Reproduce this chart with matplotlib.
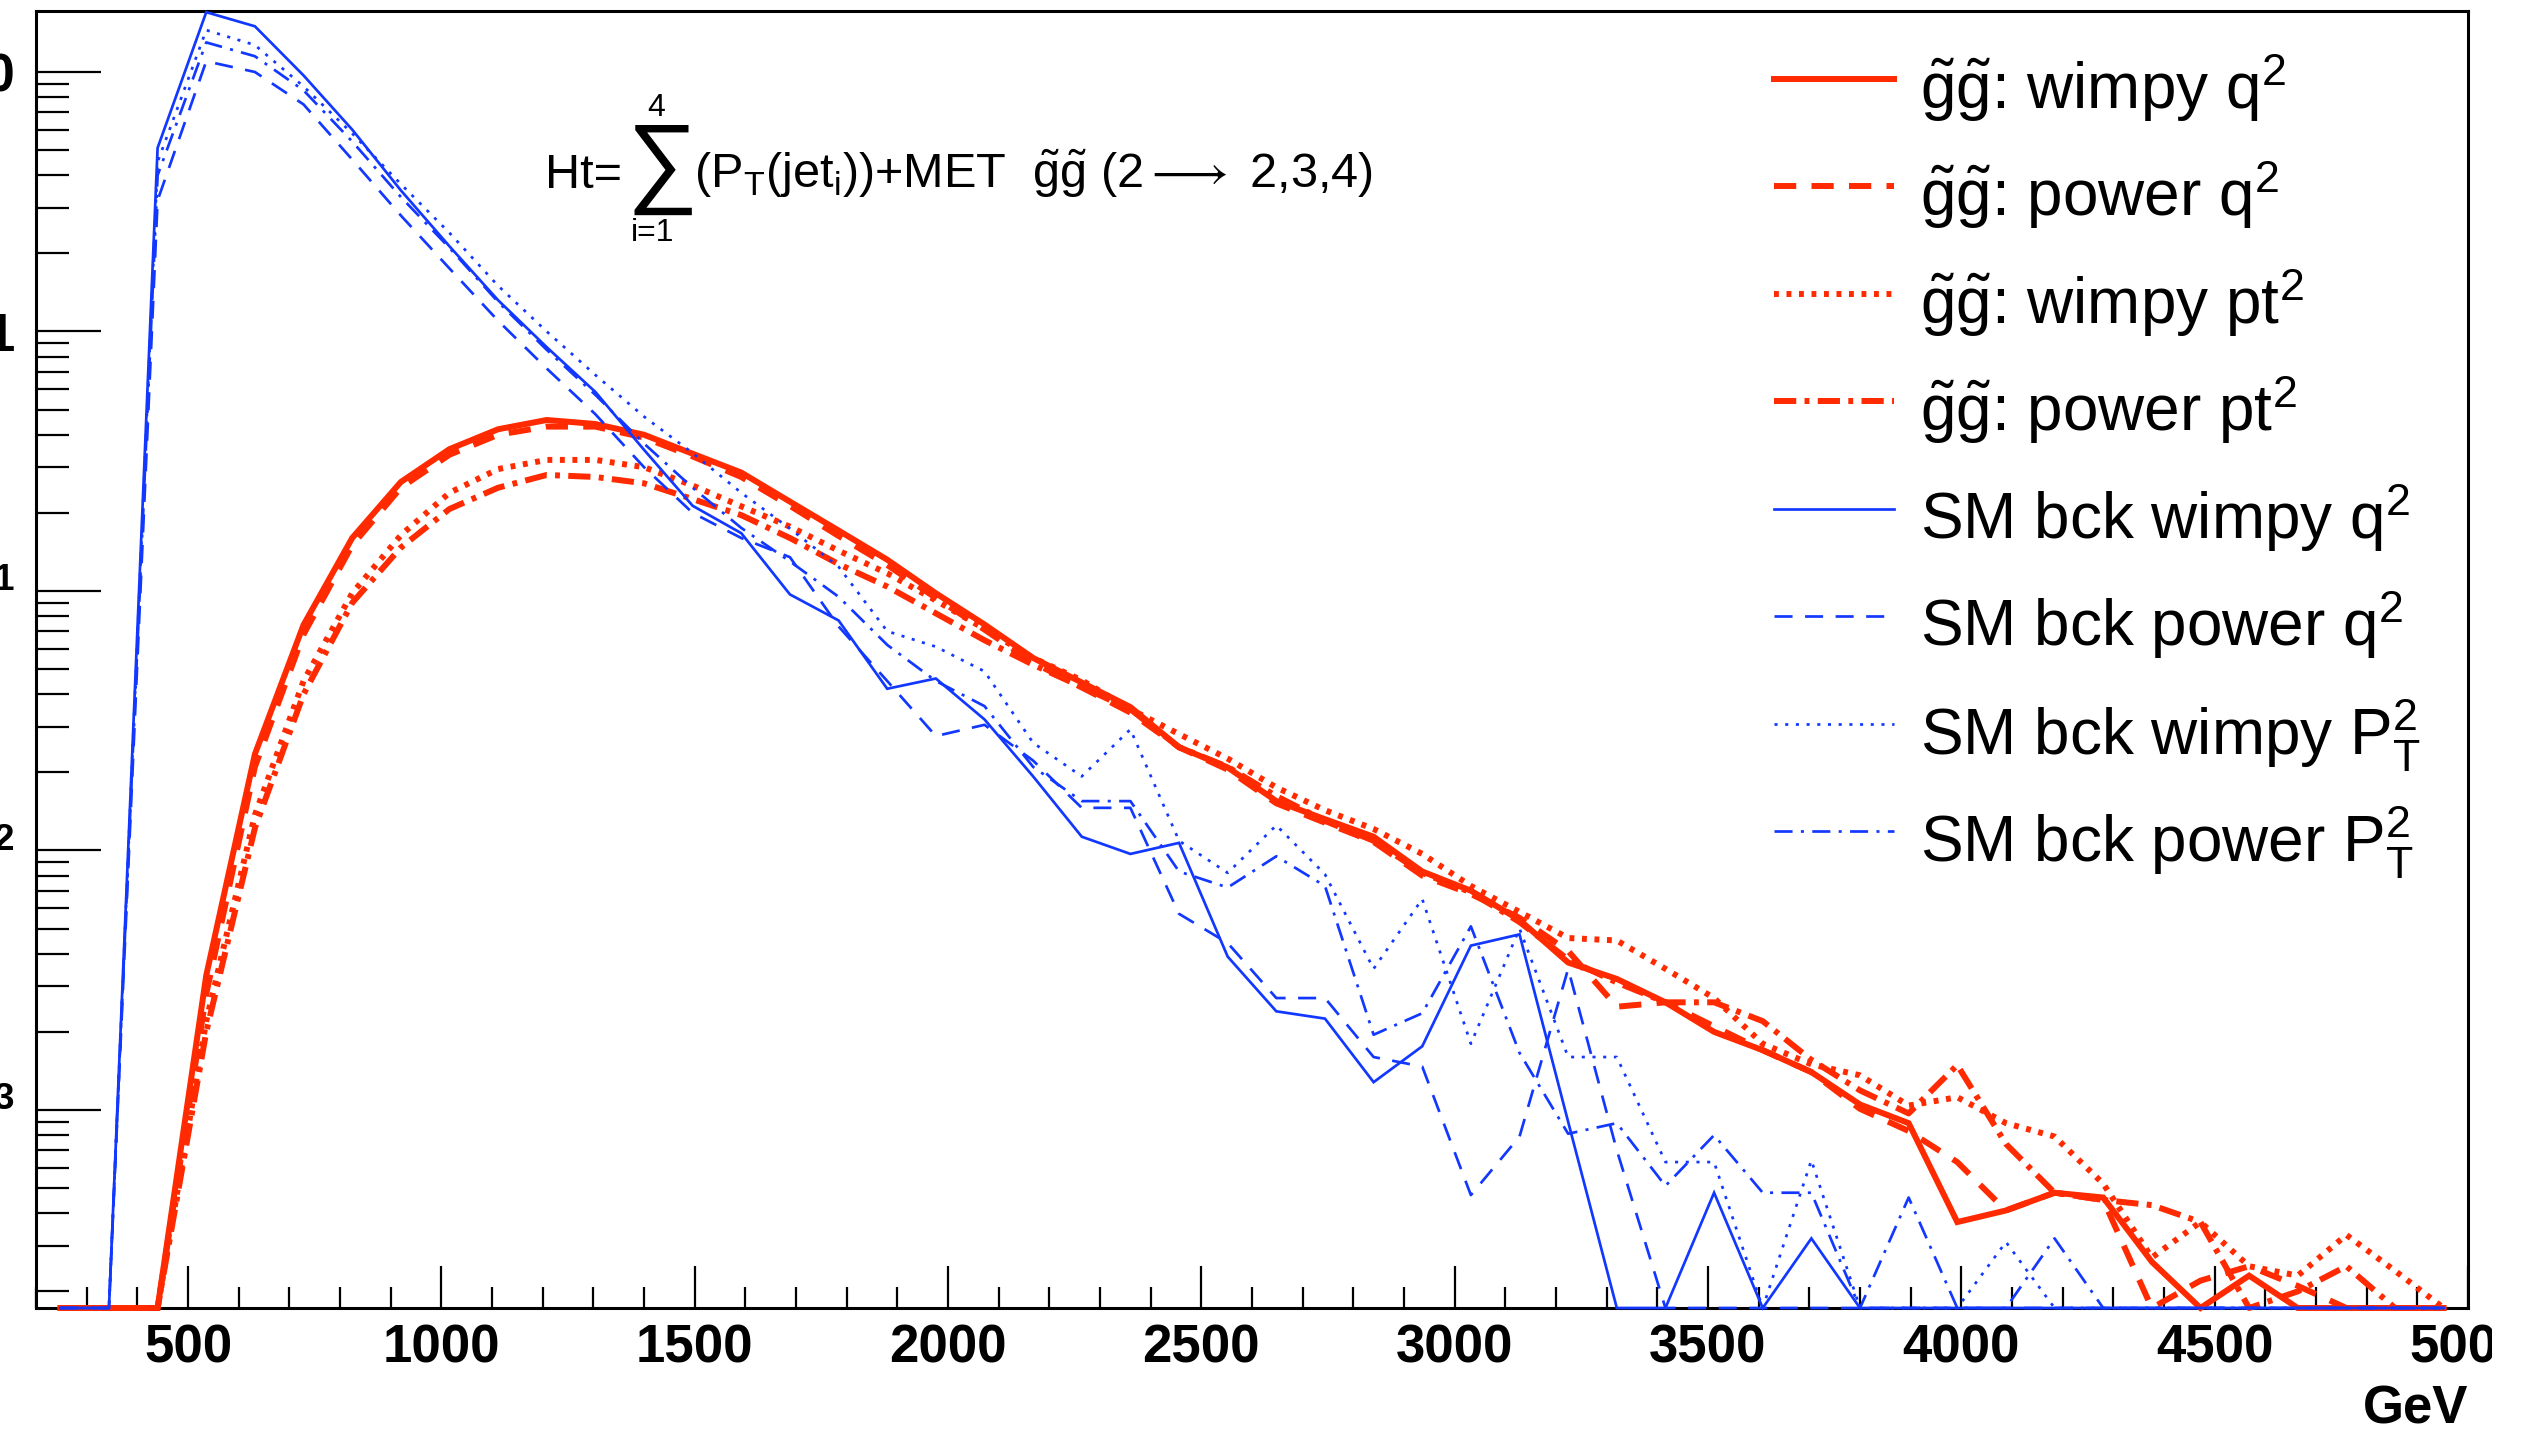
import numpy as np
import matplotlib
matplotlib.use("Agg")
import matplotlib.pyplot as plt
from matplotlib.lines import Line2D
from matplotlib.ticker import MultipleLocator, LogLocator, FuncFormatter, NullFormatter
from matplotlib.transforms import Bbox

plt.rcParams["font.family"] = ["Liberation Sans", "DejaVu Sans"]
plt.rcParams["mathtext.fontset"] = "custom"
plt.rcParams["mathtext.rm"] = "Liberation Sans"
plt.rcParams["mathtext.it"] = "Liberation Sans"
plt.rcParams["mathtext.sf"] = "Liberation Sans"
plt.rcParams["mathtext.bf"] = "Liberation Sans:bold"
plt.rcParams["lines.scale_dashes"] = False

W, H = 2523, 1429
RED = "#ff2a00"
BLUE = "#1238ff"

# Ht histogram: 50 bins of 96 GeV from 200 to 5000 GeV
ht_edges = np.arange(200, 5001, 96)
ht_centers = 0.5 * (ht_edges[1:] + ht_edges[:-1])

sig_wimpy_q2 = [0, 0, 0, 0.0033, 0.0235, 0.074, 0.16, 0.263, 0.352, 0.42,
                0.456, 0.44, 0.40, 0.338, 0.286, 0.221, 0.171, 0.132, 0.098, 0.0743,
                0.0552, 0.0444, 0.0357, 0.025, 0.0209, 0.0155, 0.0132, 0.0113, 0.0083, 0.0070,
                0.0054, 0.0037, 0.0032, 0.0026, 0.0020, 0.0017, 0.0014, 0.00105, 0.00089, 0.00037,
                0.00041, 0.00048, 0.00046, 0.00026, 0, 0.00023, 0, 0, 0, 0]
sig_power_q2 = [0, 0, 0, 0.0028, 0.021, 0.068, 0.15, 0.25, 0.335, 0.40,
                0.43, 0.43, 0.39, 0.33, 0.275, 0.213, 0.163, 0.126, 0.094, 0.071,
                0.053, 0.0425, 0.034, 0.025, 0.0205, 0.0152, 0.0128, 0.0108, 0.0080, 0.0068,
                0.0055, 0.0041, 0.0025, 0.0026, 0.0021, 0.0017, 0.0014, 0.00101, 0.00083, 0.00063,
                0.00041, 0.00048, 0.00045, 0, 0.00022, 0.00025, 0.00021, 0, 0, 0]
sig_wimpy_pt2 = [0, 0, 0, 0.0022, 0.0137, 0.045, 0.098, 0.164, 0.239, 0.295,
                 0.32, 0.32, 0.30, 0.255, 0.212, 0.177, 0.143, 0.117, 0.092, 0.0714,
                 0.0552, 0.0453, 0.035, 0.0281, 0.0226, 0.0175, 0.0143, 0.0121, 0.0097, 0.0073,
                 0.0058, 0.0046, 0.0045, 0.0035, 0.0027, 0.0018, 0.0015, 0.00136, 0.00104, 0.00112,
                 0.00089, 0.00079, 0.00052, 0.00027, 0.00037, 0.00025, 0.00023, 0.00033, 0.00024, 0]
sig_power_pt2 = [0, 0, 0, 0.0020, 0.0122, 0.040, 0.09, 0.147, 0.207, 0.25,
                 0.28, 0.275, 0.26, 0.226, 0.196, 0.16, 0.127, 0.104, 0.082, 0.0646,
                 0.052, 0.0427, 0.035, 0.025, 0.021, 0.0162, 0.013, 0.0109, 0.0082, 0.0069,
                 0.0053, 0.0038, 0.0031, 0.0026, 0.0026, 0.0022, 0.00156, 0.00119, 0.00097, 0.00149,
                 0.00074, 0.00048, 0.00045, 0.00043, 0.00037, 0, 0.0002, 0.00025, 0, 0]
bkg_wimpy_q2 = [0, 0, 5.1, 17, 15, 9.7, 6.0, 3.5, 2.13, 1.32,
                0.87, 0.585, 0.35, 0.213, 0.167, 0.097, 0.077, 0.042, 0.046, 0.032,
                0.0193, 0.0113, 0.0097, 0.0107, 0.0039, 0.0024, 0.00225, 0.00128, 0.00176, 0.0043,
                0.00475, 0.0009, 0, 0, 0.00048, 0, 0.00032, 0, 0, 0,
                0, 0, 0, 0, 0, 0, 0, 0, 0, 0]
bkg_power_q2 = [0, 0, 3.2, 11, 10, 7.5, 4.6, 2.8, 1.75, 1.1,
                0.72, 0.48, 0.30, 0.2, 0.16, 0.135, 0.073, 0.045, 0.0276, 0.0305,
                0.0222, 0.0146, 0.0146, 0.0057, 0.0044, 0.0027, 0.0027, 0.0016, 0.00147, 0.00047,
                0.00079, 0.0035, 0.0007, 0, 0, 0, 0, 0, 0, 0,
                0, 0, 0, 0, 0, 0, 0, 0, 0, 0]
bkg_wimpy_pt2 = [0, 0, 4.5, 14.5, 12.7, 8.8, 5.8, 3.7, 2.4, 1.5,
                 1.0, 0.68, 0.47, 0.34, 0.239, 0.174, 0.124, 0.07, 0.061, 0.049,
                 0.026, 0.0193, 0.0293, 0.0109, 0.0082, 0.0125, 0.0081, 0.0035, 0.0065, 0.0018,
                 0.0050, 0.0016, 0.0016, 0.00063, 0.00063, 0, 0.00064, 0, 0, 0,
                 0.00031, 0, 0, 0, 0, 0, 0, 0, 0, 0]
bkg_power_pt2 = [0, 0, 4.0, 13, 11.5, 8.5, 5.4, 3.3, 2.1, 1.3,
                 0.85, 0.57, 0.37, 0.25, 0.175, 0.13, 0.095, 0.062, 0.045, 0.036,
                 0.021, 0.0155, 0.0155, 0.0083, 0.0072, 0.0095, 0.0073, 0.00195, 0.00236, 0.0051,
                 0.00166, 0.00081, 0.00089, 0.00051, 0.0008, 0.00048, 0.00048, 0, 0.00046, 0,
                 0, 0.00032, 0, 0, 0, 0, 0, 0, 0, 0]

legend_labels = [
    r"$\tilde{g}\tilde{g}$: wimpy q$^{2}$",
    r"$\tilde{g}\tilde{g}$: power q$^{2}$",
    r"$\tilde{g}\tilde{g}$: wimpy pt$^{2}$",
    r"$\tilde{g}\tilde{g}$: power pt$^{2}$",
    r"SM bck wimpy q$^{2}$",
    r"SM bck power q$^{2}$",
    r"SM bck wimpy P$_{T}^{2}$",
    r"SM bck power P$_{T}^{2}$",
]

Y_MIN = 10 ** -3.763
Y_MAX = 10 ** 1.235

RED_LW = 4.3
BLUE_LW = 1.95
styles = [
    (sig_wimpy_q2, RED, RED_LW, None),
    (sig_power_q2, RED, RED_LW, (16, 11)),
    (sig_wimpy_pt2, RED, RED_LW, (3.5, 5.5)),
    (sig_power_pt2, RED, RED_LW, (16, 6, 3.5, 6)),
    (bkg_wimpy_q2, BLUE, BLUE_LW, None),
    (bkg_power_q2, BLUE, BLUE_LW, (13, 9)),
    (bkg_wimpy_pt2, BLUE, BLUE_LW, (2.2, 5.5)),
    (bkg_power_pt2, BLUE, BLUE_LW, (13, 6, 2.2, 6)),
]

fig = plt.figure(figsize=(W / 100, H / 100), dpi=100)
fig.patch.set_facecolor("white")
ax = fig.add_axes([36 / W, 1 - 1308 / H, (2468 - 36) / W, (1308 - 11) / H])

for values, color, lw, dashes in styles:
    y = np.asarray(values, dtype=float)
    y = np.where(y > 0, y, Y_MIN)  # empty bins sit on the frame, as in ROOT
    line, = ax.plot(ht_centers, y, color=color, lw=lw, clip_on=False,
                    solid_joinstyle="miter", dash_capstyle="butt")
    if dashes is not None:
        line.set_dashes(dashes)

ax.set_xlim(200, 5000)
ax.set_yscale("log")
ax.set_ylim(Y_MIN, Y_MAX)

for side in ["left", "bottom", "right", "top"]:
    ax.spines[side].set_linewidth(2.2)
    ax.spines[side].set_zorder(1)

ax.xaxis.set_major_locator(MultipleLocator(500))
ax.xaxis.set_minor_locator(MultipleLocator(100))
ax.yaxis.set_major_locator(LogLocator(base=10, numticks=20))
ax.yaxis.set_minor_locator(LogLocator(base=10, subs=np.arange(2, 10), numticks=50))
ax.yaxis.set_minor_formatter(NullFormatter())


def decade_label(v, pos):
    e = int(round(np.log10(v)))
    if e == 0:
        return "1"
    if e == 1:
        return "10"
    return r"$\mathbf{10^{%d}}$" % e


ax.yaxis.set_major_formatter(FuncFormatter(decade_label))
ax.tick_params(axis="x", which="major", direction="in", length=30, width=1.6,
               pad=11, labelsize=38)
ax.tick_params(axis="x", which="minor", direction="in", length=15, width=1.6)
ax.tick_params(axis="y", which="major", direction="in", length=47, width=1.6,
               pad=15, labelsize=38)
ax.tick_params(axis="y", which="minor", direction="in", length=24, width=1.6)
for lab in ax.get_xticklabels() + ax.get_yticklabels():
    lab.set_fontweight("bold")

fig.text(2468 / W, 1 - 1423 / H, "GeV", fontsize=38, fontweight="bold",
         ha="right", va="baseline")

# formula annotation
fy = 1 - 188 / H
fig.text(545 / W, fy, "Ht=", fontsize=35, va="baseline")
fig.text(627 / W, 1 - 194 / H, "\u2211", fontsize=72, va="baseline",
         family=["Liberation Sans", "DejaVu Sans"])
fig.text(656 / W, 1 - 116 / H, "4", fontsize=23, ha="center", va="baseline")
fig.text(653 / W, 1 - 241 / H, "i=1", fontsize=23, ha="center", va="baseline")
fig.text(694 / W, fy,
         r"(P$_{T}$(jet$_{i}$))+MET  $\tilde{g}\tilde{g}$ (2$\longrightarrow$ 2,3,4)",
         fontsize=35, va="baseline")

# legend (ROOT style, no border)
row_y = [0.9447 - 0.0752 * i for i in range(len(legend_labels))]
for (values, color, lw, dashes), label, yy in zip(styles, legend_labels, row_y):
    ln = Line2D([1774 / W, 1894 / W], [yy, yy], transform=fig.transFigure,
                color=color, lw=lw, dash_capstyle="butt")
    if dashes is not None:
        ln.set_dashes(dashes)
    fig.add_artist(ln)
    fig.text(1920 / W, yy - 30 / H, label, fontsize=46, va="baseline")

fig.canvas.draw()
clip = Bbox([[0, 0], [2492, H]])
for lab in ax.get_xticklabels():
    lab.set_clip_box(clip)
    lab.set_clip_on(True)

fig.savefig("out.png", dpi=100, facecolor="white")
